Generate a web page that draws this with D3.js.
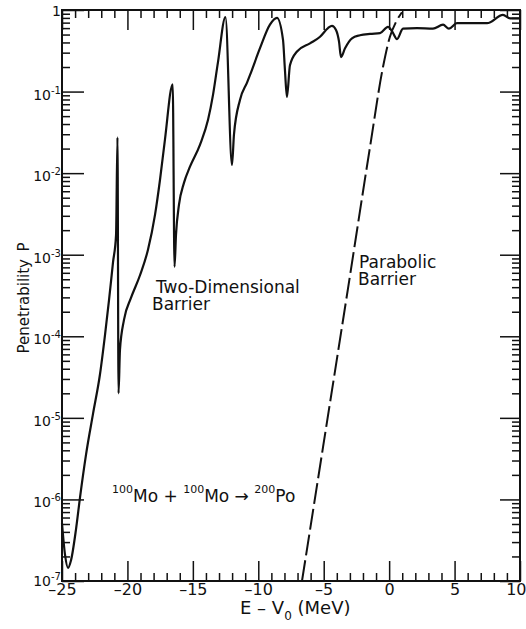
<!DOCTYPE html>
<html><head><meta charset="utf-8">
<script src="https://cdn.jsdelivr.net/npm/d3@7"></script>
<style>body{margin:0;background:#fff}svg{display:block}</style>
</head><body><svg id="c" width="526" height="629"></svg>
<script>
// ---- data ----
const energy2D = [-25.0,-24.77,-24.54,-24.31,-23.93,-23.62,-23.17,-22.63,-22.10,-21.71,-21.41,-21.10,-20.87,-20.76,-20.68,-20.57,-20.26,-19.73,-19.04,-18.43,-17.89,-17.51,-17.13,-16.54,-16.40,-16.29,-16.06,-15.68,-15.22,-14.45,-13.84,-13.46,-13.08,-12.51,-12.01,-11.86,-11.40,-10.86,-10.63,-9.87,-9.11,-8.57,-8.11,-7.96,-7.81,-7.58,-7.04,-6.05,-5.28,-4.67,-4.37,-4.06,-3.83,-3.68,-3.37,-2.84,-2.23,-1.46,-0.70,-0.09,0.22,0.60,1.06,2.13,3.35,4.12,4.57,5.18,7.48,8.70,9.24,10.0];
const penetrability2D = [5.1e-7,2.1e-7,1.45e-7,1.8e-7,4.3e-7,1.07e-6,3.5e-6,1.12e-5,3.4e-5,1.05e-4,2.75e-4,8.1e-4,1.74e-3,2.75e-2,2.0e-5,6.8e-5,1.6e-4,2.95e-4,5.6e-4,1.15e-3,3.1e-3,8.3e-3,2.6e-2,0.123,7.1e-4,1.74e-3,4.1e-3,7.6e-3,1.2e-2,2.24e-2,4.5e-2,9.1e-2,0.23,0.82,1.26e-2,2.95e-2,7.9e-2,0.129,0.16,0.34,0.66,0.80,0.43,0.18,0.086,0.21,0.31,0.39,0.47,0.60,0.64,0.57,0.41,0.265,0.34,0.45,0.49,0.51,0.52,0.62,0.55,0.44,0.59,0.60,0.59,0.66,0.59,0.69,0.69,0.87,0.79,0.79];
const energyParabolic = [-6.66,-5.05,-3.14,-1.46,-0.47,0.06,0.52,0.98];
const penetrabilityParabolic = [1e-7,4.4e-6,3.9e-4,2.1e-2,0.20,0.47,0.71,0.94];
const xMajorTicks = [-25,-20,-15,-10,-5,0,5,10];
const xTickLabels = ["–25","–20","–15","–10","–5","0","5","10"];
const yDecadeTicks = [1,1e-1,1e-2,1e-3,1e-4,1e-5,1e-6,1e-7];
const yTickExponents = ["","-1","-2","-3","-4","-5","-6","-7"];

// ---- layout ----
const svg = d3.select("#c");
const L = 62, R = 520, T = 10, B = 581;
const x = d3.scaleLinear().domain([-25,10]).range([L,R]);
const y = d3.scaleLog().domain([1e-7,1]).range([B,T]);
const font = "DejaVu Sans, sans-serif";
const ink = "#111";

const xMinor = d3.range(-25,10.001,1).filter(v => !xMajorTicks.includes(v));
const yMinor = [];
yDecadeTicks.slice(1).forEach(d => { for (let k=2;k<=9;k++) yMinor.push(d*k); });

function styleAxis(g){
  g.select(".domain").remove();
  g.selectAll("line").attr("stroke",ink).attr("stroke-width",1.5);
  g.selectAll("text").attr("fill",ink).attr("font-family",font);
}
// bottom
const bx = svg.append("g").attr("transform",`translate(0,${B})`)
  .call(d3.axisBottom(x).tickValues(xMajorTicks).tickSize(-20).tickSizeOuter(0).tickPadding(3).tickFormat((d,i)=>xTickLabels[i]))
  .call(styleAxis);
bx.selectAll("text").attr("font-size",16)
  .attr("text-anchor",(d,i)=> i===xMajorTicks.length-1 ? "end" : "middle")
  .attr("dx",(d,i)=> i===xMajorTicks.length-1 ? 6 : 0);
svg.append("g").attr("transform",`translate(0,${B})`)
  .call(d3.axisBottom(x).tickValues(xMinor).tickSize(-8).tickSizeOuter(0).tickFormat(""))
  .call(styleAxis);
// top
svg.append("g").attr("transform",`translate(0,${T})`)
  .call(d3.axisTop(x).tickValues(xMajorTicks).tickSize(-20).tickSizeOuter(0).tickFormat(""))
  .call(styleAxis);
svg.append("g").attr("transform",`translate(0,${T})`)
  .call(d3.axisTop(x).tickValues(xMinor).tickSize(-8).tickSizeOuter(0).tickFormat(""))
  .call(styleAxis);
// left
svg.append("g").attr("transform",`translate(${L},0)`)
  .call(d3.axisLeft(y).tickValues(yDecadeTicks).tickSize(-22).tickSizeOuter(0).tickFormat(""))
  .call(styleAxis);
svg.append("g").attr("transform",`translate(${L},0)`)
  .call(d3.axisLeft(y).tickValues(yMinor).tickSize(-8).tickSizeOuter(0).tickFormat(""))
  .call(styleAxis);
// right
svg.append("g").attr("transform",`translate(${R},0)`)
  .call(d3.axisRight(y).tickValues(yDecadeTicks).tickSize(-20).tickSizeOuter(0).tickFormat(""))
  .call(styleAxis);
svg.append("g").attr("transform",`translate(${R},0)`)
  .call(d3.axisRight(y).tickValues(yMinor).tickSize(-8).tickSizeOuter(0).tickFormat(""))
  .call(styleAxis);

// y tick labels
yDecadeTicks.forEach((d,i) => {
  const t = svg.append("text").attr("x",L-1).attr("y",y(d)+ (i===0?6:(i===7?5:8)))
    .attr("text-anchor","end").attr("font-family",font).attr("fill",ink).attr("font-size",14);
  if (i===0) { t.text("1"); }
  else {
    t.append("tspan").text("10");
    t.append("tspan").attr("font-size",10).attr("dy",-6).text(yTickExponents[i]);
  }
});

// frame
svg.append("rect").attr("x",L).attr("y",T).attr("width",R-L).attr("height",B-T)
  .attr("fill","none").attr("stroke",ink).attr("stroke-width",2);

// curves
const line = d3.line().x(d=>x(d[0])).y(d=>y(d[1])).curve(d3.curveMonotoneX);
svg.append("path").datum(d3.zip(energy2D,penetrability2D))
  .attr("d",line).attr("fill","none").attr("stroke",ink).attr("stroke-width",2.2)
  .attr("stroke-linejoin","round");
svg.append("path").datum(d3.zip(energyParabolic,penetrabilityParabolic))
  .attr("d",line).attr("fill","none").attr("stroke",ink).attr("stroke-width",2)
  .attr("stroke-dasharray","21,5");

// annotations
function label(xp,yp,txt,size){
  svg.append("text").attr("x",xp).attr("y",yp).attr("font-family",font)
    .attr("font-size",size).attr("fill",ink).text(txt);
}
label(156,293,"Two-Dimensional",17);
label(152,310,"Barrier",17);
label(359,268,"Parabolic",17);
label(358,285,"Barrier",17);

const rx = svg.append("text").attr("x",112).attr("y",502).attr("font-family",font)
  .attr("fill",ink).attr("font-size",17);
const parts = [["100",true],["Mo",false],[" + ",false],["100",true],["Mo",false],[" → ",false],["200",true],["Po",false]];
parts.forEach(([s,sup],i) => {
  const ts = rx.append("tspan").text(s);
  const prevSup = i>0 && parts[i-1][1];
  if (sup) ts.attr("font-size",11).attr("dy",-9);
  else if (prevSup) ts.attr("dy",9);
});

// axis titles
const xt = svg.append("text").attr("x",240).attr("y",614).attr("font-family",font)
  .attr("font-size",18).attr("fill",ink);
xt.append("tspan").text("E – V");
xt.append("tspan").attr("font-size",12).attr("dy",6).text("0");
xt.append("tspan").attr("dy",-6).text(" (MeV)");

svg.append("text").attr("transform","translate(28.5,298) rotate(-90)")
  .attr("text-anchor","middle").attr("font-family",font).attr("font-size",15)
  .attr("fill",ink).text("Penetrability\u2002P");
</script></body></html>
